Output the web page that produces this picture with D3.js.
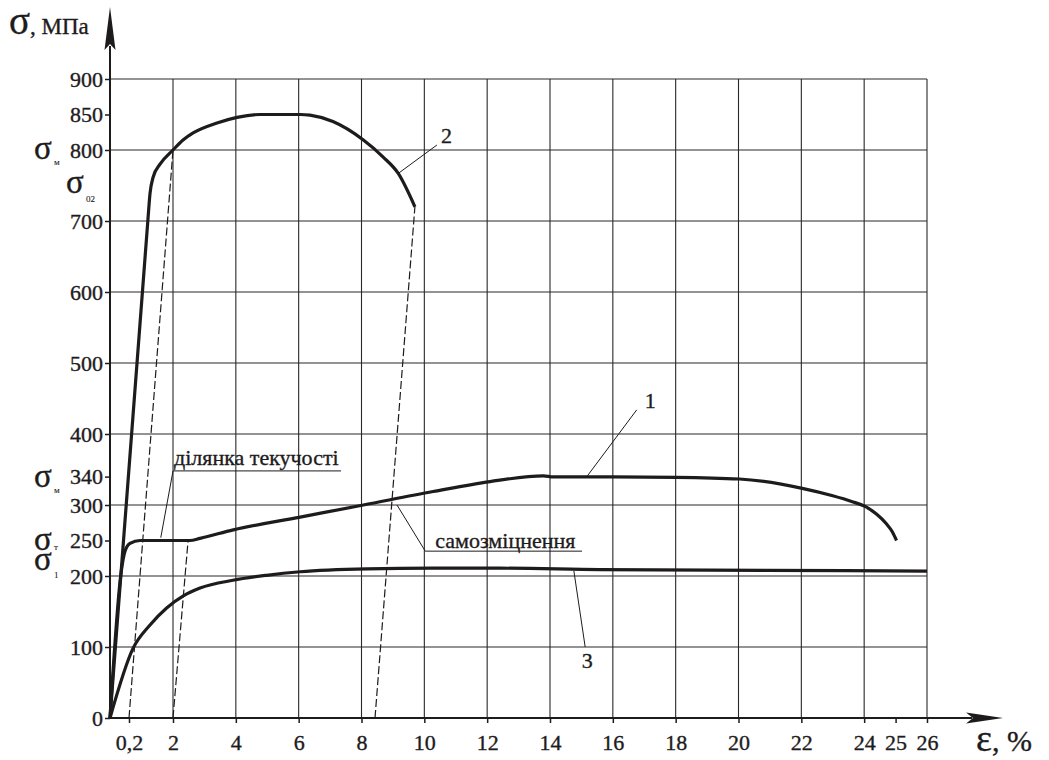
<!DOCTYPE html>
<html>
<head>
<meta charset="utf-8">
<script src="https://cdn.jsdelivr.net/npm/d3@7"></script>
<style>
  html, body { margin: 0; padding: 0; background: #fff; }
  svg { display: block; }
  text { font-family: "Liberation Serif", "Times New Roman", serif; fill: #1e1b1c; stroke: #1e1b1c; stroke-width: 0.35px; }
</style>
</head>
<body>
<svg id="chart" width="1049" height="760"></svg>
<script>
// Strain (ε, %) and stress (σ, MPa) for the three tension diagrams
const curve1Eps = [0, 0.117, 0.158, 0.241, 0.65, 1.47, 2.54, 2.86, 3.92, 6.05, 8.06, 10.28, 12.09, 13.79, 14.1, 16, 18.02, 20.03, 22.03, 23, 23.6, 24.03, 24.4, 24.7, 24.9, 25.03];
const curve1Sig = [0, 205, 235, 246, 250, 250, 250, 253, 265, 283, 300, 319, 333, 341, 339.5, 339.5, 339, 336.6, 323.5, 313, 305, 298, 287, 274, 262, 250];

const curve2Eps = [0, 0.97, 1.06, 1.19, 1.47, 2, 2.32, 2.64, 3.4, 4.04, 4.77, 6.05, 6.36, 7.09, 8.06, 8.69, 9.17, 9.7];
const curve2Sig = [0, 700, 739, 762, 780, 800, 814, 824, 838, 846, 850, 850, 849, 840, 814, 790, 767, 720];

const curve3Eps = [0, 0.364, 1.06, 1.74, 2.33, 2.86, 3.91, 4.98, 6.05, 8.17, 10.27, 12.41, 15.59, 20.84, 26];
const curve3Sig = [0, 98, 131, 155, 172, 183, 194, 201, 206, 210, 211, 211, 209, 208, 207];

// Unloading (offset) lines: [ε at σ = 0, ε at top, σ at top]
const unloadEps0 = [0.2, 2, 8.43];
const unloadEps1 = [2, 2.48, 9.7];
const unloadSig1 = [800, 250, 720];

// Axis ticks and grid
const xTicks = [0.2, 2, 4, 6, 8, 10, 12, 14, 16, 18, 20, 22, 24, 25, 26];
const yTicks = [0, 100, 200, 250, 300, 340, 400, 500, 600, 700, 800, 850, 900];
const gridX = [2, 4, 6, 8, 10, 12, 14, 16, 18, 20, 22, 24, 26];
const gridY = [100, 200, 300, 400, 500, 600, 700, 800, 900];

const ink = "#1e1b1c";
const svg = d3.select("#chart");

// The first interval (0…0,2) is stretched so the offset tick is readable
const x = d3.scaleLinear().domain([0, 0.2, 2, 26]).range([110, 129, 173, 927]);
const y = d3.scaleLinear().domain([0, 900]).range([718, 79]);

const xMin = x(0), xMax = x(26), yMin = y(0), yMax = y(900);

// Grid
const grid = svg.append("g").attr("stroke", "#2a2728").attr("stroke-width", 1.1);
grid.selectAll("line.v").data(gridX).join("line")
  .attr("x1", d => x(d)).attr("x2", d => x(d))
  .attr("y1", yMin).attr("y2", yMax);
grid.selectAll("line.h").data(gridY).join("line")
  .attr("x1", xMin).attr("x2", xMax)
  .attr("y1", d => y(d)).attr("y2", d => y(d));

// Axes with ticks
const fmt = d => String(d).replace(".", ",");
const yAxis = svg.append("g").attr("transform", `translate(${xMin},0)`)
  .call(d3.axisLeft(y).tickValues(yTicks).tickSize(5).tickPadding(2).tickFormat(fmt));
const xAxis = svg.append("g").attr("transform", `translate(0,${yMin})`)
  .call(d3.axisBottom(x).tickValues(xTicks).tickSize(5).tickPadding(11).tickFormat(fmt));
[xAxis, yAxis].forEach(g => {
  g.attr("font-family", null);
  g.select(".domain").remove();
  g.selectAll(".tick line").attr("stroke", ink).attr("stroke-width", 1.5);
  g.selectAll(".tick text").attr("fill", ink)
    .style("font-family", '"Liberation Serif", serif').style("font-size", "22px");
});

// Axis lines with arrowheads
svg.append("line").attr("x1", xMin).attr("x2", xMin).attr("y1", yMin).attr("y2", 46)
  .attr("stroke", ink).attr("stroke-width", 2);
svg.append("line").attr("x1", xMin).attr("x2", 972).attr("y1", yMin).attr("y2", yMin)
  .attr("stroke", ink).attr("stroke-width", 2);
svg.append("path")
  .attr("d", `M${xMin},7 L${xMin + 5.5},50 L${xMin},44 L${xMin - 5.5},50 Z`)
  .attr("fill", ink);
svg.append("path")
  .attr("d", `M1003,${yMin} L966,${yMin - 5.5} L973,${yMin} L966,${yMin + 5.5} Z`)
  .attr("fill", ink);

// Unloading lines
svg.append("g").selectAll("line").data(unloadEps0).join("line")
  .attr("x1", d => x(d)).attr("y1", y(0))
  .attr("x2", (d, i) => x(unloadEps1[i])).attr("y2", (d, i) => y(unloadSig1[i]))
  .attr("stroke", ink).attr("stroke-width", 1.2).attr("stroke-dasharray", "8,3");

// Curves
const line = d3.line().x(d => x(d[0])).y(d => y(d[1])).curve(d3.curveMonotoneX);
const curves = [
  d3.zip(curve1Eps, curve1Sig),
  d3.zip(curve2Eps, curve2Sig),
  d3.zip(curve3Eps, curve3Sig)
];
svg.append("g").selectAll("path").data(curves).join("path")
  .attr("d", line).attr("fill", "none")
  .attr("stroke", ink).attr("stroke-width", 3.2)
  .attr("stroke-linejoin", "round").attr("stroke-linecap", "butt");

// Curve numbers with leader lines
const numLeaders = [
  { label: "2", from: [9.17, 767], to: [10.4, 807], tx: 4, ty: -2, anchor: "start" },
  { label: "1", from: [15.19, 341], to: [16.76, 434], tx: 8, ty: -2, anchor: "start" },
  { label: "3", from: [14.76, 207], to: [15.12, 100], tx: 2, ty: 21, anchor: "middle" }
];
const thin = svg.append("g").attr("stroke", ink).attr("stroke-width", 1).attr("fill", "none");
numLeaders.forEach(d => {
  thin.append("line")
    .attr("x1", x(d.from[0])).attr("y1", y(d.from[1]))
    .attr("x2", x(d.to[0])).attr("y2", y(d.to[1]));
  svg.append("text").attr("x", x(d.to[0]) + d.tx).attr("y", y(d.to[1]) + d.ty)
    .attr("text-anchor", d.anchor).style("font-size", "22px").text(d.label);
});

// Region notes with underlined captions
const notes = [
  { text: "ділянка текучості", from: [1.5, 254], elbow: [2, 348], end: 7.35, indent: 1, gap: 6 },
  { text: "самозміцнення", from: [9.13, 300], elbow: [10.03, 235], end: 15.02, indent: 10, gap: 3 }
];
notes.forEach(d => {
  const ex = x(d.elbow[0]), ey = y(d.elbow[1]);
  thin.append("polyline")
    .attr("points", `${x(d.from[0])},${y(d.from[1])} ${ex},${ey} ${x(d.end)},${ey}`);
  svg.append("text").attr("x", ex + d.indent).attr("y", ey - d.gap)
    .style("font-size", "22px").text(d.text);
});

// Axis titles
const title = svg.append("text").attr("x", 9).attr("y", 34);
title.append("tspan").style("font-size", "39px").text("σ");
title.append("tspan").style("font-size", "23px").text(", МПа");

const xt = svg.append("text").attr("x", 976).attr("y", 751);
xt.append("tspan").style("font-size", "38px").text("ε");
xt.append("tspan").style("font-size", "30px").text(", %");

// Characteristic stress symbols beside the stress axis
const marks = [
  { sub: "м", v: 800, x: 34, dy: 9, sdy: 15 },
  { sub: "02", v: 800, x: 66, dy: 43, sdy: 52 },
  { sub: "м", v: 340, x: 34, dy: 10, sdy: 16 },
  { sub: "т", v: 250, x: 34, dy: 9, sdy: 9 },
  { sub: "1", v: 250, x: 34, dy: 29, sdy: 37 }
];
marks.forEach(d => {
  svg.append("text").attr("x", d.x).attr("y", y(d.v) + d.dy)
    .style("font-size", "33px").text("σ");
  svg.append("text").attr("x", d.x + 20).attr("y", y(d.v) + d.sdy)
    .style("font-size", "9px").style("stroke-width", "0.1px").text(d.sub);
});
</script>
</body>
</html>
